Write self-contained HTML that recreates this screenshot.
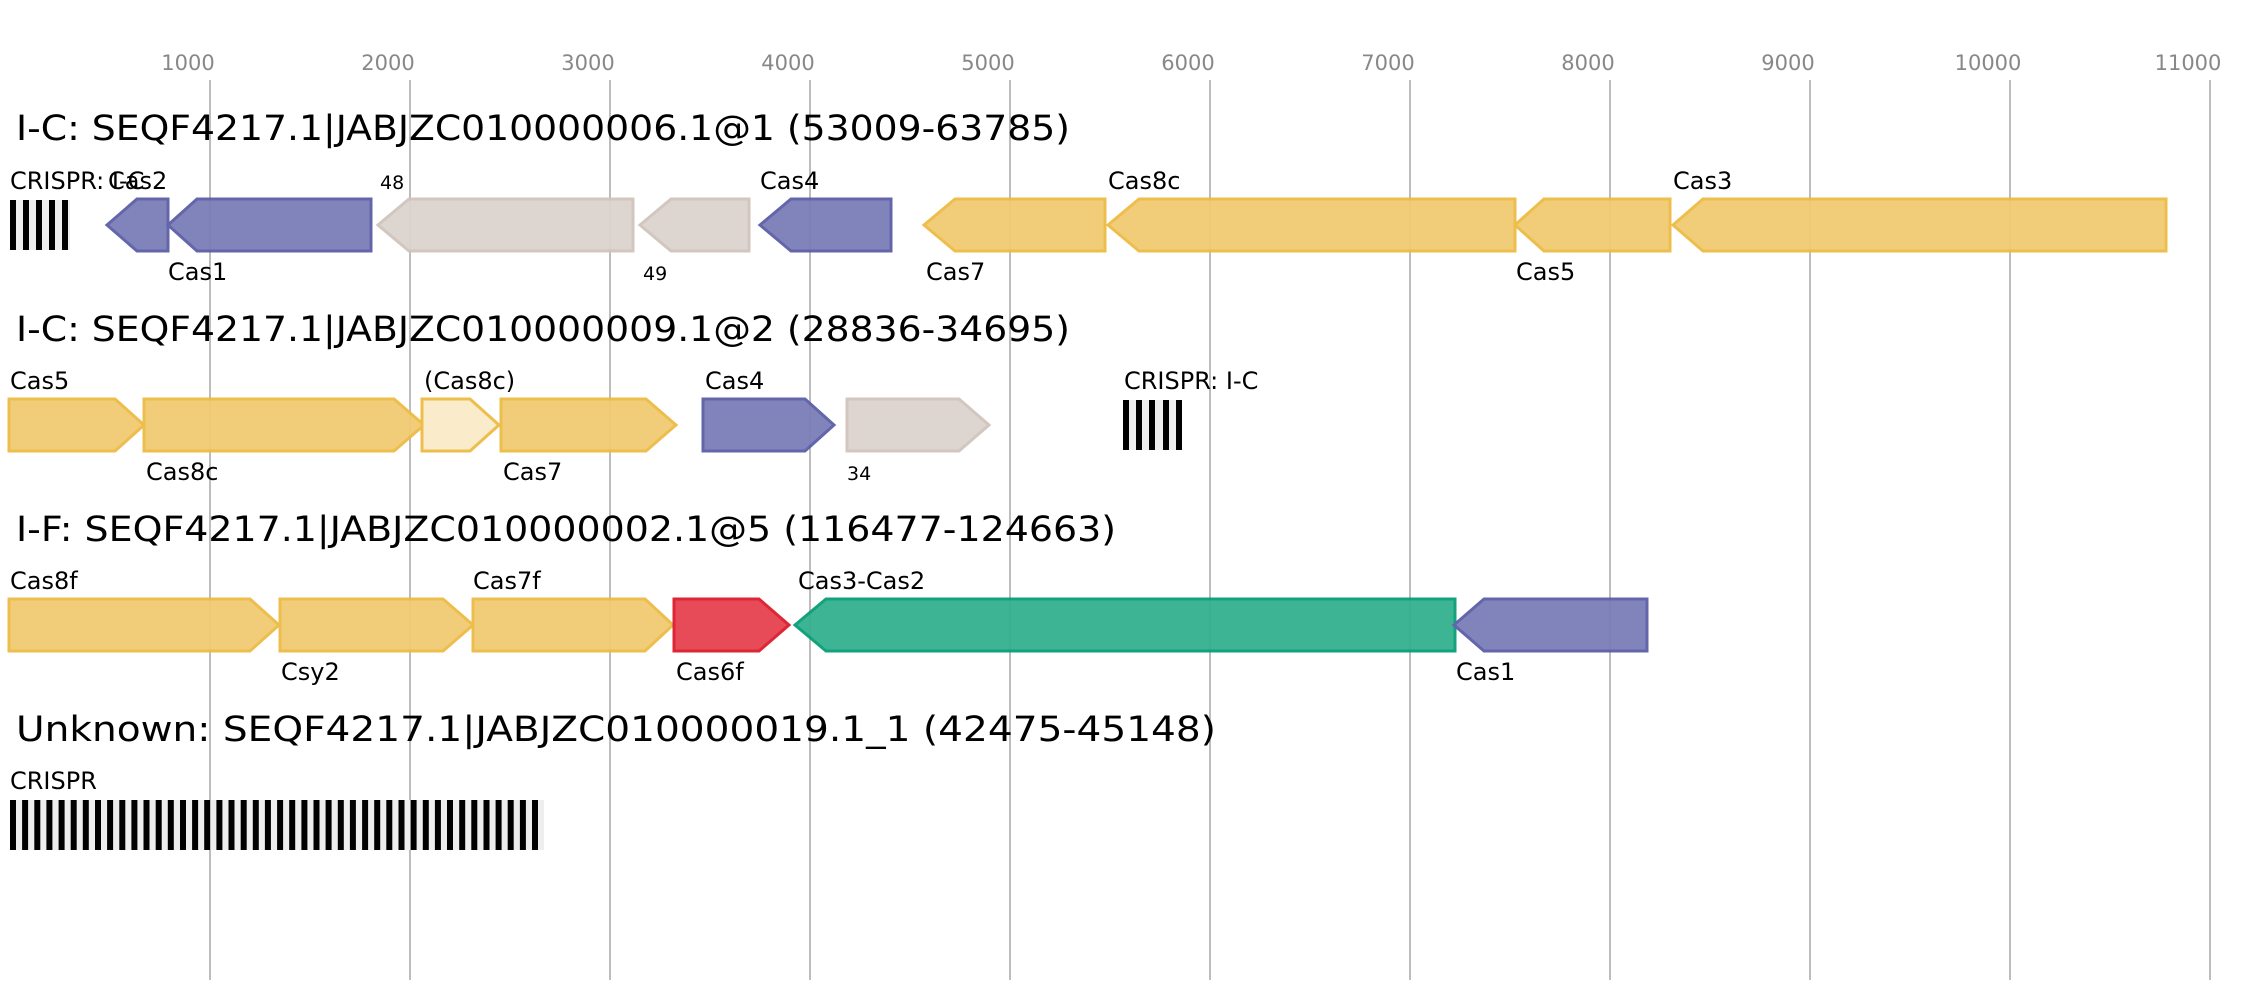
<!DOCTYPE html>
<html><head><meta charset="utf-8"><style>
html,body{margin:0;padding:0;background:#fff;}
svg{display:block;}
text{font-family:"DejaVu Sans","Liberation Sans",sans-serif;}
.t{font-size:35px;fill:#000;}
.l{font-size:24px;fill:#000;}
.s{font-size:19px;fill:#000;}
.k{font-size:21px;fill:#888;text-anchor:middle;}
.g{stroke:#bdbdbd;stroke-width:2;}
.b{fill:#7b7eb8;stroke:#5b5ea6;stroke-width:3;}
.y{fill:#f1cb73;stroke:#eebb44;stroke-width:3;}
.yl{fill:#faebc8;stroke:#eebb44;stroke-width:3;}
.gr{fill:#dcd4ce;stroke:#d1c4bb;stroke-width:3;}
.gn{fill:#33b08f;stroke:#089e77;stroke-width:3;}
.r{fill:#e5424f;stroke:#dc1c2c;stroke-width:3;}
</style></head><body>
<svg width="2255" height="1000" viewBox="0 0 2255 1000" xmlns="http://www.w3.org/2000/svg">
<g class="g">
<line x1="210" y1="80" x2="210" y2="980"/><line x1="410" y1="80" x2="410" y2="980"/>
<line x1="610" y1="80" x2="610" y2="980"/><line x1="810" y1="80" x2="810" y2="980"/>
<line x1="1010" y1="80" x2="1010" y2="980"/><line x1="1210" y1="80" x2="1210" y2="980"/>
<line x1="1410" y1="80" x2="1410" y2="980"/><line x1="1610" y1="80" x2="1610" y2="980"/>
<line x1="1810" y1="80" x2="1810" y2="980"/><line x1="2010" y1="80" x2="2010" y2="980"/>
<line x1="2210" y1="80" x2="2210" y2="980"/>
</g>
<g class="k">
<text x="188" y="70">1000</text><text x="388" y="70">2000</text><text x="588" y="70">3000</text>
<text x="788" y="70">4000</text><text x="988" y="70">5000</text><text x="1188" y="70">6000</text>
<text x="1388" y="70">7000</text><text x="1588" y="70">8000</text><text x="1788" y="70">9000</text>
<text x="1988" y="70">10000</text><text x="2188" y="70">11000</text>
</g>

<text class="t" x="16" y="140" textLength="1054" lengthAdjust="spacingAndGlyphs">I-C: SEQF4217.1|JABJZC010000006.1@1 (53009-63785)</text>
<rect x="10" y="200" width="60" height="50" fill="#eee"/>
<g fill="#000"><rect x="10" y="200" width="6" height="50"/><rect x="23" y="200" width="6" height="50"/><rect x="36" y="200" width="6" height="50"/><rect x="49" y="200" width="6" height="50"/><rect x="62" y="200" width="6" height="50"/></g>
<g opacity="0.95">
<polygon class="b" points="107,225 137,199 168,199 168,251 137,251"/>
<polygon class="b" points="168,225 197,199 371,199 371,251 197,251"/>
<polygon class="gr" points="378,225 409,199 633,199 633,251 409,251"/>
<polygon class="gr" points="640,225 671,199 749,199 749,251 671,251"/>
<polygon class="b" points="760,225 791,199 891,199 891,251 791,251"/>
<polygon class="y" points="924,225 955,199 1105,199 1105,251 955,251"/>
<polygon class="y" points="1108,225 1139,199 1515,199 1515,251 1139,251"/>
<polygon class="y" points="1515,225 1544,199 1670,199 1670,251 1544,251"/>
<polygon class="y" points="1673,225 1703,199 2166,199 2166,251 1703,251"/>
</g>
<text class="l" x="10" y="189">CRISPR: I-C</text>
<text class="l" x="108" y="189">Cas2</text>
<text class="l" x="168" y="280">Cas1</text>
<text class="s" x="380" y="189">48</text>
<text class="s" x="643" y="280">49</text>
<text class="l" x="760" y="189">Cas4</text>
<text class="l" x="926" y="280">Cas7</text>
<text class="l" x="1108" y="189">Cas8c</text>
<text class="l" x="1516" y="280">Cas5</text>
<text class="l" x="1673" y="189">Cas3</text>

<text class="t" x="16" y="341" textLength="1054" lengthAdjust="spacingAndGlyphs">I-C: SEQF4217.1|JABJZC010000009.1@2 (28836-34695)</text>
<g opacity="0.95">
<polygon class="y" points="9,399 115,399 144,425 115,451 9,451"/>
<polygon class="y" points="144,399 394,399 424,425 394,451 144,451"/>
<polygon class="yl" points="422,399 470,399 499,425 470,451 422,451"/>
<polygon class="y" points="501,399 646,399 676,425 646,451 501,451"/>
<polygon class="b" points="703,399 805,399 834,425 805,451 703,451"/>
<polygon class="gr" points="847,399 959,399 989,425 959,451 847,451"/>
</g>
<rect x="1123" y="400" width="59" height="50" fill="#eee"/>
<g fill="#000"><rect x="1123" y="400" width="6" height="50"/><rect x="1136" y="400" width="6" height="50"/><rect x="1149" y="400" width="6" height="50"/><rect x="1163" y="400" width="6" height="50"/><rect x="1176" y="400" width="6" height="50"/></g>
<text class="l" x="10" y="389">Cas5</text>
<text class="l" x="146" y="480">Cas8c</text>
<text class="l" x="424" y="389">(Cas8c)</text>
<text class="l" x="503" y="480">Cas7</text>
<text class="l" x="705" y="389">Cas4</text>
<text class="s" x="847" y="480">34</text>
<text class="l" x="1124" y="389">CRISPR: I-C</text>

<text class="t" x="16" y="541" textLength="1100" lengthAdjust="spacingAndGlyphs">I-F: SEQF4217.1|JABJZC010000002.1@5 (116477-124663)</text>
<g opacity="0.95">
<polygon class="y" points="9,599 250,599 279,625 250,651 9,651"/>
<polygon class="y" points="280,599 443,599 473,625 443,651 280,651"/>
<polygon class="y" points="473,599 645,599 673,625 645,651 473,651"/>
<polygon class="r" points="674,599 759,599 789,625 759,651 674,651"/>
<polygon class="gn" points="795,625 826,599 1455,599 1455,651 826,651"/>
<polygon class="b" points="1454,625 1484,599 1647,599 1647,651 1484,651"/>
</g>
<text class="l" x="10" y="589">Cas8f</text>
<text class="l" x="281" y="680">Csy2</text>
<text class="l" x="473" y="589">Cas7f</text>
<text class="l" x="676" y="680">Cas6f</text>
<text class="l" x="798" y="589">Cas3-Cas2</text>
<text class="l" x="1456" y="680">Cas1</text>

<text class="t" x="16" y="741" textLength="1200" lengthAdjust="spacingAndGlyphs">Unknown: SEQF4217.1|JABJZC010000019.1_1 (42475-45148)</text>
<text class="l" x="10" y="789">CRISPR</text>
<rect x="10" y="800" width="534" height="50" fill="#eee"/>
<g fill="#000">
<rect x="10" y="800" width="6" height="50"/><rect x="22.1" y="800" width="6" height="50"/><rect x="34.3" y="800" width="6" height="50"/><rect x="46.4" y="800" width="6" height="50"/><rect x="58.6" y="800" width="6" height="50"/><rect x="70.7" y="800" width="6" height="50"/><rect x="82.8" y="800" width="6" height="50"/><rect x="95" y="800" width="6" height="50"/><rect x="107.1" y="800" width="6" height="50"/><rect x="119.3" y="800" width="6" height="50"/><rect x="131.4" y="800" width="6" height="50"/><rect x="143.5" y="800" width="6" height="50"/><rect x="155.7" y="800" width="6" height="50"/><rect x="167.8" y="800" width="6" height="50"/><rect x="180" y="800" width="6" height="50"/><rect x="192.1" y="800" width="6" height="50"/><rect x="204.2" y="800" width="6" height="50"/><rect x="216.4" y="800" width="6" height="50"/><rect x="228.5" y="800" width="6" height="50"/><rect x="240.7" y="800" width="6" height="50"/><rect x="252.8" y="800" width="6" height="50"/><rect x="264.9" y="800" width="6" height="50"/><rect x="277.1" y="800" width="6" height="50"/><rect x="289.2" y="800" width="6" height="50"/><rect x="301.4" y="800" width="6" height="50"/><rect x="313.5" y="800" width="6" height="50"/><rect x="325.6" y="800" width="6" height="50"/><rect x="337.8" y="800" width="6" height="50"/><rect x="349.9" y="800" width="6" height="50"/><rect x="362.1" y="800" width="6" height="50"/><rect x="374.2" y="800" width="6" height="50"/><rect x="386.3" y="800" width="6" height="50"/><rect x="398.5" y="800" width="6" height="50"/><rect x="410.6" y="800" width="6" height="50"/><rect x="422.8" y="800" width="6" height="50"/><rect x="434.9" y="800" width="6" height="50"/><rect x="447" y="800" width="6" height="50"/><rect x="459.2" y="800" width="6" height="50"/><rect x="471.3" y="800" width="6" height="50"/><rect x="483.5" y="800" width="6" height="50"/><rect x="495.6" y="800" width="6" height="50"/><rect x="507.7" y="800" width="6" height="50"/><rect x="519.9" y="800" width="6" height="50"/><rect x="532" y="800" width="6" height="50"/>
</g>
</svg>
</body></html>
